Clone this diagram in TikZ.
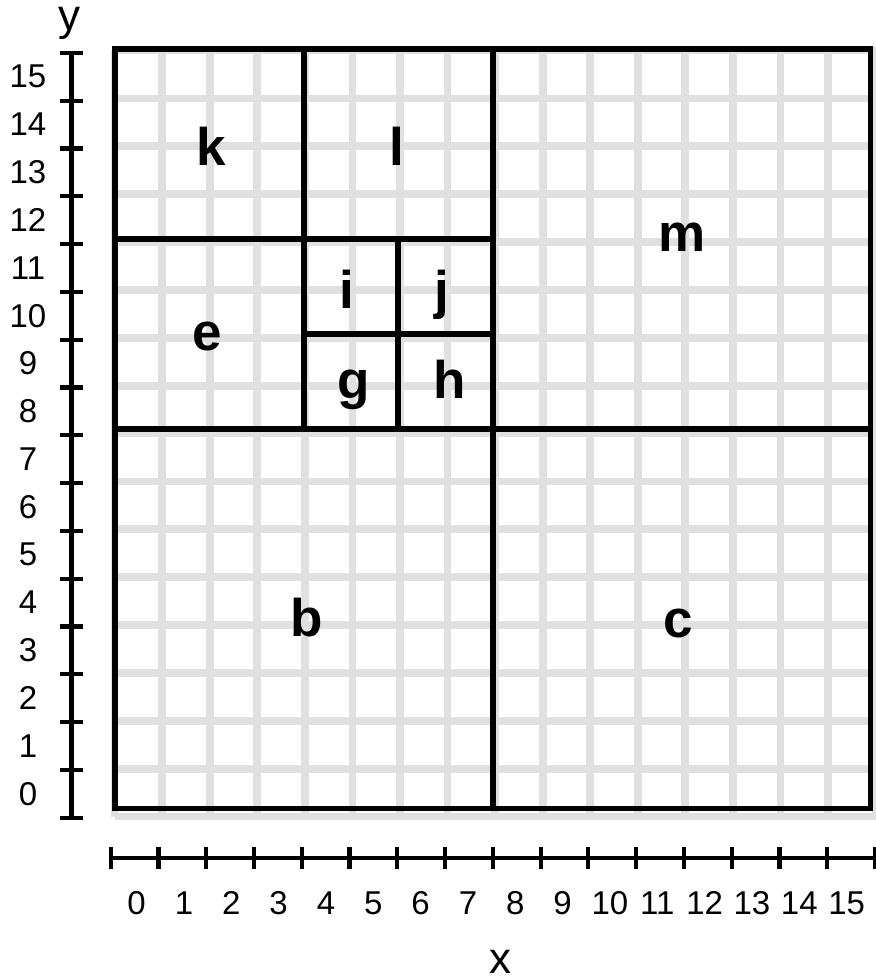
\documentclass[tikz,border=0pt]{standalone}
\usepackage{fontspec}
\setmainfont{Liberation Sans}
\usepackage{xcolor}
\definecolor{gridGrey}{HTML}{E0E0E0}

\begin{document}
\begin{tikzpicture}[
  x=47.22pt,y=47.45pt,
  cellgrid/.style={draw=gridGrey,line width=7.7pt},
  divline/.style={draw=black,line width=5.8pt},
  axisline/.style={draw=black,line width=4.2pt},
  region/.style={font=\fontsize{53}{53}\selectfont\bfseries,inner sep=0pt,anchor=base},
  ticklab/.style={font=\fontsize{33}{33}\selectfont,inner sep=0pt},
  axislab/.style={font=\fontsize{44}{44}\selectfont,inner sep=0pt,anchor=base}
]
\useasboundingbox (-2.435,-3.593) rectangle (16.095,17.039);
% light unit grid
\begin{scope}[shift={(-0.008,-0.169)},xscale=1.0072,yscale=1.0089]
\foreach \i in {0,...,16} {
  \draw[cellgrid] (\i,0) -- (\i,16);
  \draw[cellgrid] (0,\i) -- (16,\i);
}
\end{scope}
% quadtree cells
\draw[divline] (0,0) rectangle (16,16);
\draw[divline] (8,0) -- (8,16);
\draw[divline] (0,8) -- (16,8);
\draw[divline] (0,12) -- (8,12);
\draw[divline] (4,8) -- (4,16);
\draw[divline] (6,8) -- (6,12);
\draw[divline] (4,10) -- (8,10);
% cell names
\node[region] (k) at (2.04,13.56) {k};
\node[region] (l) at (5.97,13.56) {l};
\node[region] (m) at (12.0,11.73) {m};
\node[region] (e) at (1.95,9.66) {e};
\node[region] (i) at (4.92,10.54) {i};
\node[region] (j) at (6.92,10.54) {j};
\node[region] (g) at (5.05,8.64) {g};
\node[region] (h) at (7.09,8.64) {h};
\node[region] (b) at (4.06,3.62) {b};
\node[region] (c) at (11.92,3.61) {c};
% y axis
\coordinate (ybot) at (-0.921,-0.194);
\coordinate (ytop) at (-0.921,15.924);
\draw[axisline] (ybot) -- (ytop);
\foreach \k in {0,...,16}
  \draw[axisline] ([shift={(-0.24,\k*1.0074)}]ybot) -- ++(0.48,0);
\foreach \k in {0,...,15}
  \node[ticklab] (ytick\k) at (-1.842,{-0.194+(\k+0.5)*1.0074}) {\k};
\node[axislab] (ylabel) at (-0.953,16.40) {y};
% x axis
\coordinate (xleft) at (-0.091,-1.05);
\coordinate (xright) at (16.095,-1.05);
\draw[axisline] (xleft) -- (xright);
\foreach \k in {0,...,16}
  \draw[axisline] ([shift={(\k*1.0116,-0.232)}]xleft) -- ++(0,0.464);
\foreach \k in {0,...,15}
  \node[ticklab] (xtick\k) at ({0.459+\k*1.0023},-1.99) {\k};
\node[axislab] (xlabel) at (8.17,-3.48) {x};
\end{tikzpicture}
\end{document}
